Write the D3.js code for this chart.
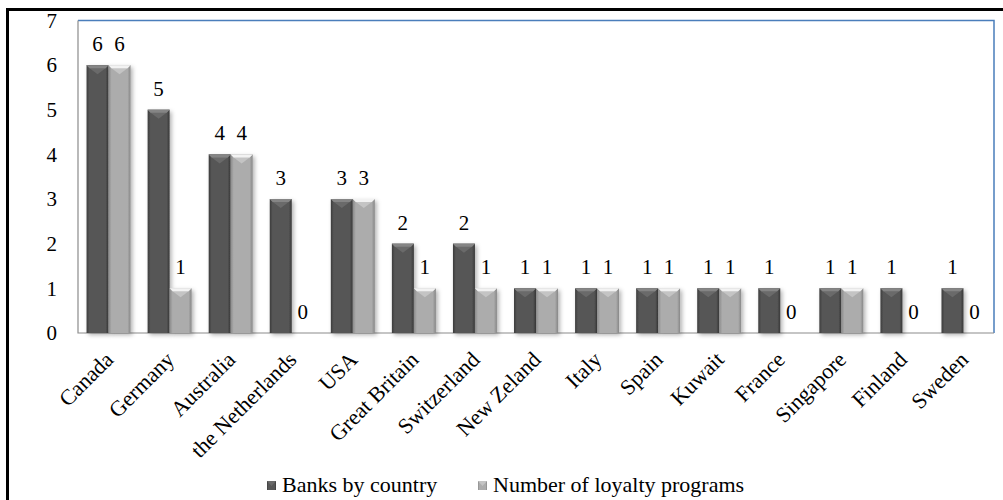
<!DOCTYPE html>
<html>
<head>
<meta charset="utf-8">
<script src="https://cdn.jsdelivr.net/npm/d3@7/dist/d3.min.js"></script>
</head>
<body style="margin:0">
<svg id="chart" width="1003" height="500"></svg>
<script>
// Banks and loyalty programs per country
const categories = ["Canada", "Germany", "Australia", "the Netherlands", "USA", "Great Britain",
  "Switzerland", "New Zeland", "Italy", "Spain", "Kuwait", "France", "Singapore", "Finland", "Sweden"];
const banksByCountry = [6, 5, 4, 3, 3, 2, 2, 1, 1, 1, 1, 1, 1, 1, 1];
const loyaltyPrograms = [6, 1, 4, 0, 3, 1, 1, 1, 1, 1, 1, 0, 1, 0, 0];
const seriesNames = ["Banks by country", "Number of loyalty programs"];
const yTicks = [0, 1, 2, 3, 4, 5, 6, 7];

const svg = d3.select("#chart");
const plot = { left: 78, right: 994, top: 20.5, bottom: 333 };

// shared text styling
function serif(sel, size) {
  return sel.style("font-family", "'Times New Roman'").style("font-size", size + "px").style("fill", "#000");
}

const x = d3.scaleBand().domain(categories).range([plot.left, plot.right])
  .paddingInner(0.28).paddingOuter(0.14);
const xs = d3.scaleBand().domain(seriesNames).range([0, x.bandwidth()]);
const y = d3.scaleLinear().domain([0, 7]).range([plot.bottom, plot.top]);

// gradients for the bevelled bars
const defs = svg.append("defs");
const styles = [
  { id: "g0", edgeL: "#3c3c3c", body: "#575757", edgeR: "#383838", cap: "#858585", tri: "#6a6a6a" },
  { id: "g1", edgeL: "#8a8a8a", body: "#acacac", edgeR: "#868686", cap: "#f2f2f2", tri: "#c4c4c4" }
];
styles.forEach(s => {
  const g = defs.append("linearGradient").attr("id", s.id).attr("x1", 0).attr("x2", 1).attr("y1", 0).attr("y2", 0);
  g.append("stop").attr("offset", "0%").attr("stop-color", s.edgeL);
  g.append("stop").attr("offset", "14%").attr("stop-color", s.body);
  g.append("stop").attr("offset", "86%").attr("stop-color", s.body);
  g.append("stop").attr("offset", "100%").attr("stop-color", s.edgeR);
});
const shadow = defs.append("filter").attr("id", "shadow").attr("x", "-30%").attr("y", "-10%").attr("width", "160%").attr("height", "130%");
shadow.append("feDropShadow").attr("dx", 2).attr("dy", 2).attr("stdDeviation", 2).attr("flood-color", "#000").attr("flood-opacity", 0.3);

// outer frame (left and top edges visible)
svg.append("rect").attr("x", 7.5).attr("y", 9.5).attr("width", 1100).attr("height", 600)
  .attr("fill", "none").attr("stroke", "#000").attr("stroke-width", 3);

// plot area frame
svg.append("path")
  .attr("d", `M${plot.left},${plot.top}H${plot.right}V${plot.bottom}`)
  .attr("fill", "none").attr("stroke", "#4a7ebb").attr("stroke-width", 1.5);
svg.append("path")
  .attr("d", `M${plot.left},${plot.top}V${plot.bottom}H${plot.right}`)
  .attr("fill", "none").attr("stroke", "#8c8c8c").attr("stroke-width", 1.2);

// y axis labels
const yAxis = d3.axisLeft(y).tickValues(yTicks).tickSize(0).tickPadding(0).tickFormat(d3.format("d"));
const ya = svg.append("g").attr("transform", `translate(${plot.left - 21},0)`).call(yAxis);
ya.select(".domain").remove();
ya.attr("font-family", null).attr("font-size", null);
serif(ya.selectAll("text"), 21);

// bars
const rows = categories.map((c, i) => ({ cat: c, vals: [banksByCountry[i], loyaltyPrograms[i]] }));
const groups = svg.append("g").selectAll("g").data(rows).join("g")
  .attr("transform", d => `translate(${x(d.cat)},0)`);

groups.each(function (d) {
  const g = d3.select(this);
  d.vals.forEach((v, si) => {
    const bx = xs(seriesNames[si]);
    const bw = xs.bandwidth();
    const top = y(v);
    const h = y(0) - top;
    const s = styles[si];
    if (h > 0) {
      g.append("rect").attr("x", bx).attr("y", top).attr("width", bw).attr("height", h)
        .attr("fill", `url(#${s.id})`).attr("filter", "url(#shadow)");
      // bevelled top cap
      const capH = Math.min(9, h);
      g.append("path")
        .attr("d", `M${bx},${top}H${bx + bw}L${bx + bw - 3},${top + 3}L${bx + bw / 2},${top + capH}L${bx + 3},${top + 3}Z`)
        .attr("fill", s.tri);
      g.append("path")
        .attr("d", `M${bx},${top}H${bx + bw}L${bx + bw - 3},${top + 3}H${bx + 3}Z`)
        .attr("fill", s.cap);
    }
    serif(g.append("text"), 21)
      .attr("x", bx + bw / 2).attr("y", top - 14)
      .attr("text-anchor", "middle")
      .text(v);
  });
});

// category labels
serif(svg.append("g").selectAll("text").data(categories).join("text"), 22)
  .attr("transform", d => `translate(${x(d) + x.bandwidth() / 2 + 6},${plot.bottom + 28}) rotate(-45)`)
  .attr("text-anchor", "end")
  .text(d => d);

// legend
const legendItems = [{ name: seriesNames[0], x: 267, s: styles[0] }, { name: seriesNames[1], x: 478, s: styles[1] }];
const lg = svg.append("g").selectAll("g").data(legendItems).join("g")
  .attr("transform", d => `translate(${d.x},481)`);
lg.append("rect").attr("width", 9).attr("height", 9).attr("fill", d => `url(#${d.s.id})`);
lg.append("path").attr("d", "M0,0H9L4.5,5Z").attr("fill", d => d.s.tri);
serif(lg.append("text"), 22).attr("x", 15).attr("y", 11)
  .text(d => d.name);
</script>
</body>
</html>
